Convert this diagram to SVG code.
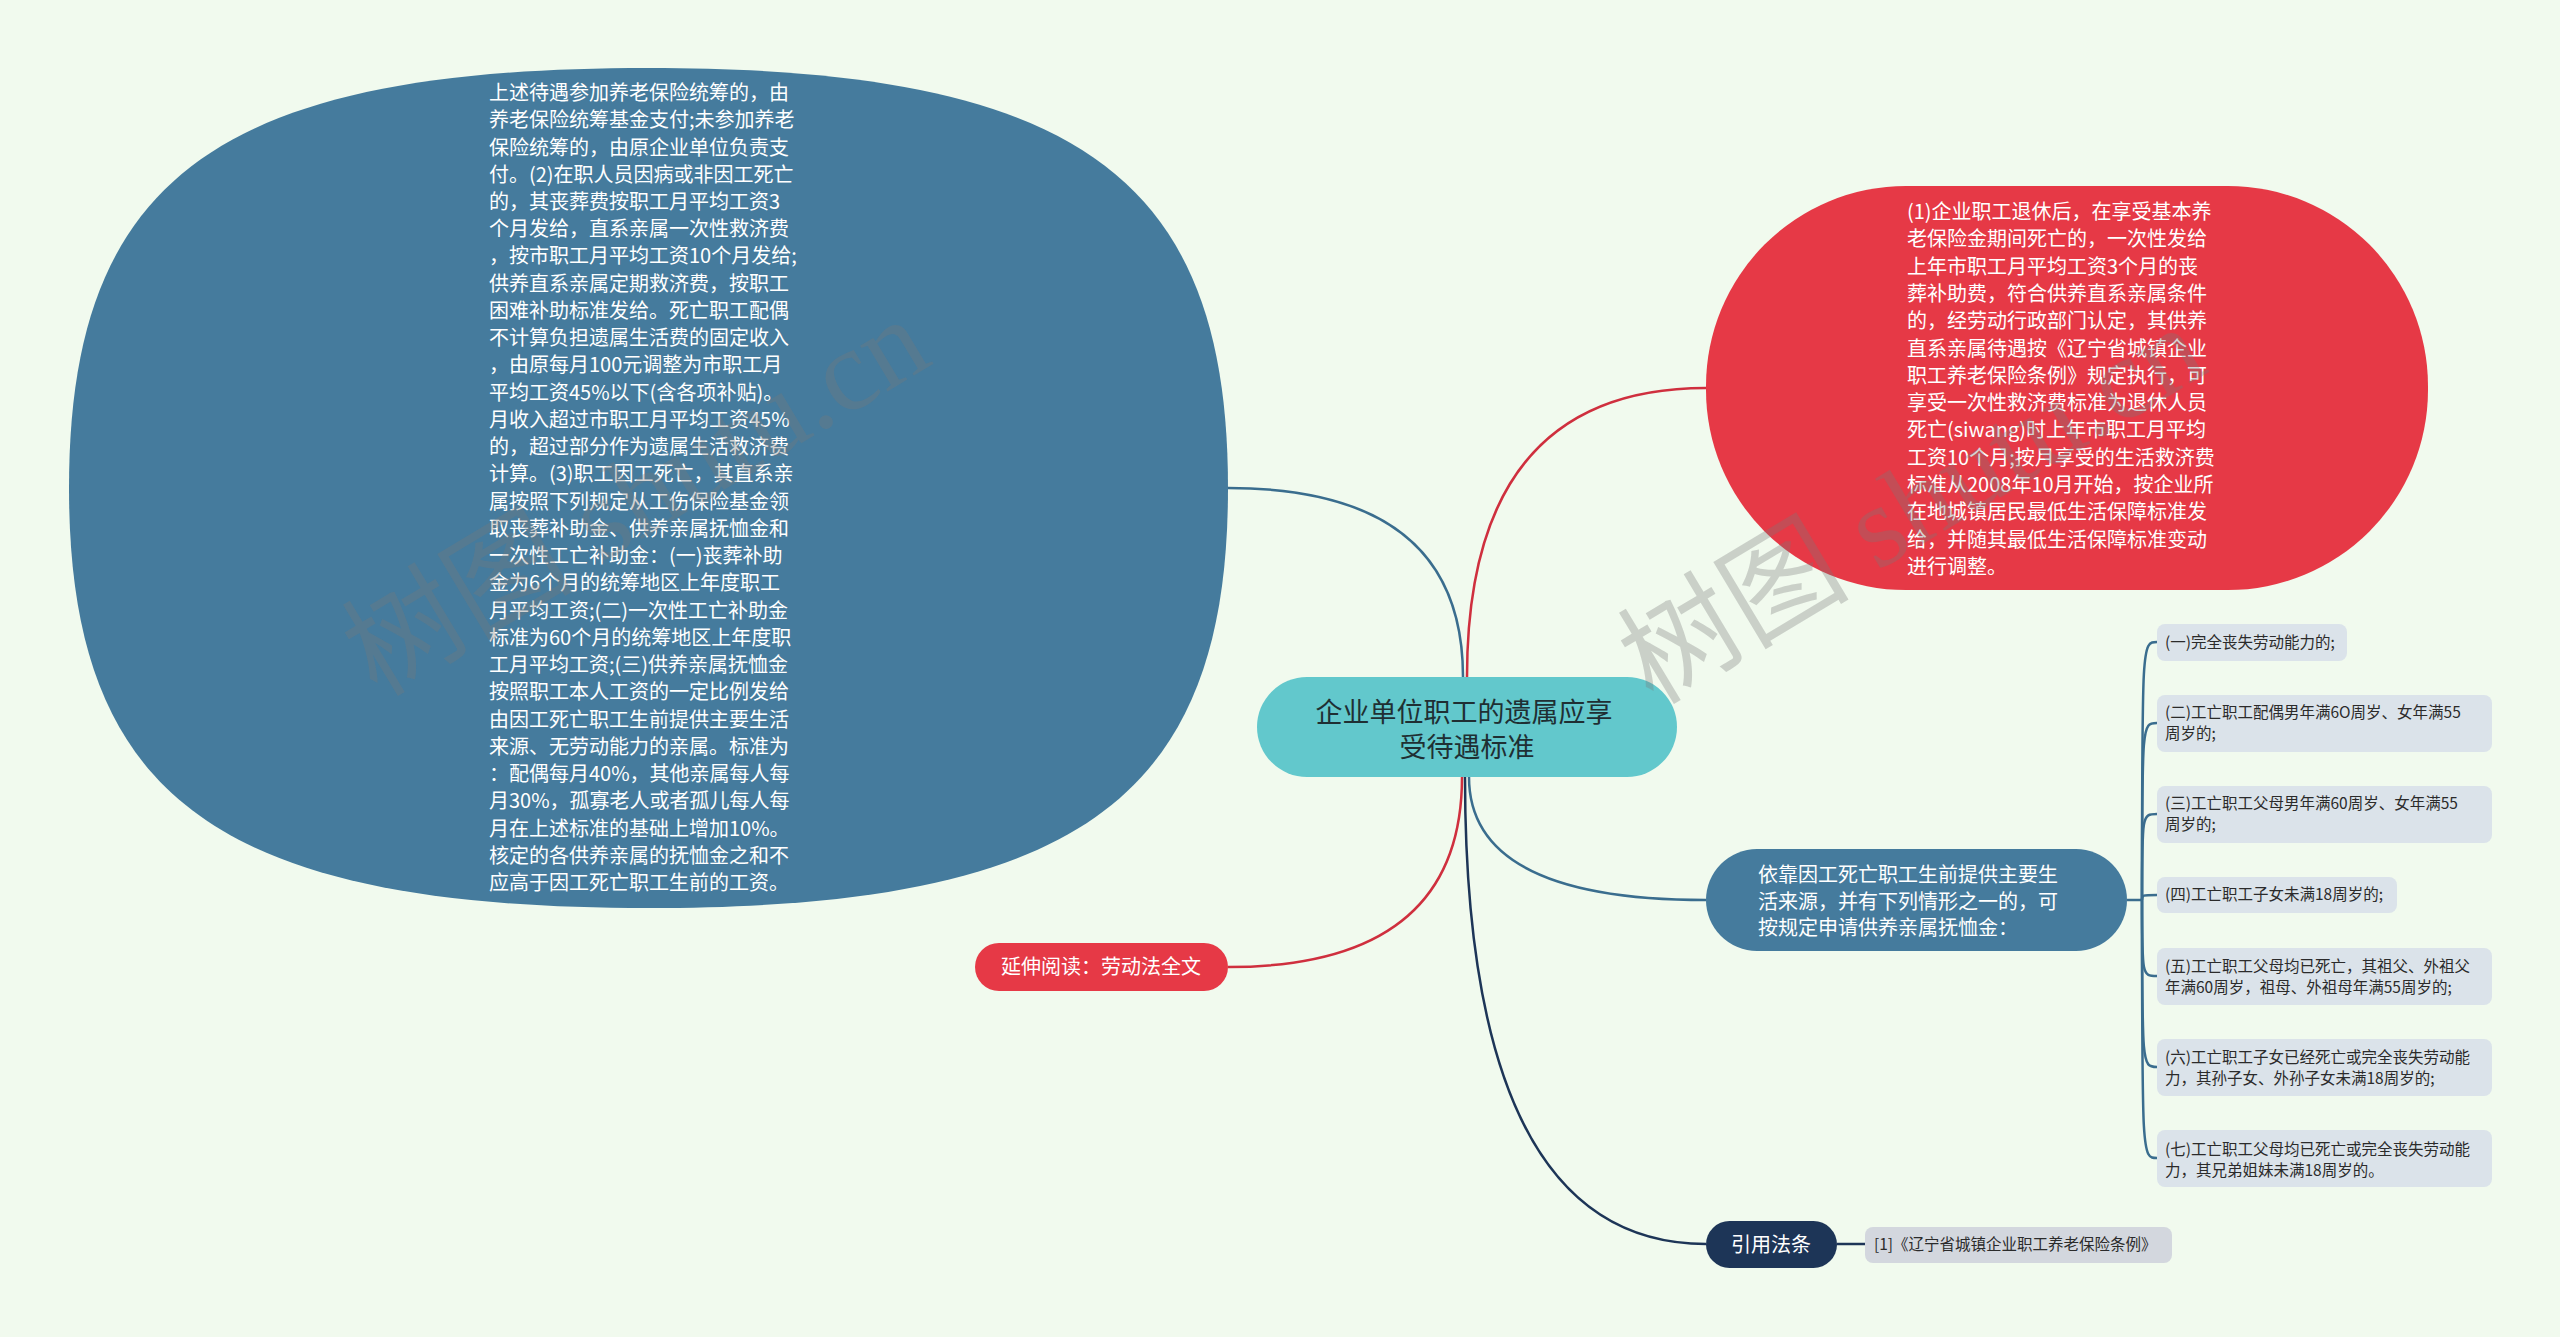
<svg xmlns="http://www.w3.org/2000/svg" width="2560" height="1337" viewBox="0 0 2560 1337">
<style>
text{font-family:"Noto Sans CJK SC","Noto Sans",sans-serif;}
.wt{fill:#ffffff;font-size:20px;}
.lf{fill:#2b2b2b;font-size:15.5px;}
.leaf{fill:#dbe3ea;}
.wm{fill:#7a7a7a;fill-opacity:0.32;font-size:116px;font-family:"Liberation Serif","Noto Sans CJK SC",serif;}
.c{fill:none;stroke-width:2.5;}
</style>
<rect x="0" y="0" width="2560" height="1337" fill="#f1faee"/>

<g id="connectors">
  <path class="c" stroke="#3a6d8e" d="M1463,677 Q1463,488 1228,488"/>
  <path class="c" stroke="#cf2f3e" d="M1467,677 Q1467,388 1706,388"/>
  <path class="c" stroke="#cf2f3e" d="M1462,777 Q1462,967 1228,967"/>
  <path class="c" stroke="#3a6d8e" d="M1469,777 Q1469,900 1706,900"/>
  <path class="c" stroke="#1d3557" d="M1465,777 Q1465,1244 1706,1244"/>
  <path class="c" stroke="#1d3557" d="M1837,1244 H1865"/>
  <g stroke="#3a6d8e" class="c">
    <path d="M2127,900 H2142"/>
    <path d="M2142,900 C2142,642 2142,642 2157,642"/>
    <path d="M2142,900 C2142,723 2142,723 2157,723"/>
    <path d="M2142,900 C2142,814 2142,814 2157,814"/>
    <path d="M2142,900 C2142,895 2142,895 2157,895"/>
    <path d="M2142,900 C2142,976 2142,976 2157,976"/>
    <path d="M2142,900 C2142,1067 2142,1067 2157,1067"/>
    <path d="M2142,900 C2142,1158 2142,1158 2157,1158"/>
  </g>
</g>

<g id="node-left">
  <path d="M69,488 C69,177 220,68 648.5,68 C1077,68 1228,177 1228,488 C1228,799 1077,908 648.5,908 C220,908 69,799 69,488 Z" fill="#457b9d"/>
  <text class="wt">
    <tspan x="489" y="100">上述待遇参加养老保险统筹的，由</tspan>
    <tspan x="489" y="127.2">养老保险统筹基金支付;未参加养老</tspan>
    <tspan x="489" y="154.5">保险统筹的，由原企业单位负责支</tspan>
    <tspan x="489" y="181.7">付。(2)在职人员因病或非因工死亡</tspan>
    <tspan x="489" y="209">的，其丧葬费按职工月平均工资3</tspan>
    <tspan x="489" y="236.2">个月发给，直系亲属一次性救济费</tspan>
    <tspan x="489" y="263.4">，按市职工月平均工资10个月发给;</tspan>
    <tspan x="489" y="290.7">供养直系亲属定期救济费，按职工</tspan>
    <tspan x="489" y="317.9">困难补助标准发给。死亡职工配偶</tspan>
    <tspan x="489" y="345.2">不计算负担遗属生活费的固定收入</tspan>
    <tspan x="489" y="372.4">，由原每月100元调整为市职工月</tspan>
    <tspan x="489" y="399.6">平均工资45%以下(含各项补贴)。</tspan>
    <tspan x="489" y="426.9">月收入超过市职工月平均工资45%</tspan>
    <tspan x="489" y="454.1">的，超过部分作为遗属生活救济费</tspan>
    <tspan x="489" y="481.4">计算。(3)职工因工死亡，其直系亲</tspan>
    <tspan x="489" y="508.6">属按照下列规定从工伤保险基金领</tspan>
    <tspan x="489" y="535.8">取丧葬补助金、供养亲属抚恤金和</tspan>
    <tspan x="489" y="563.1">一次性工亡补助金：(一)丧葬补助</tspan>
    <tspan x="489" y="590.3">金为6个月的统筹地区上年度职工</tspan>
    <tspan x="489" y="617.6">月平均工资;(二)一次性工亡补助金</tspan>
    <tspan x="489" y="644.8">标准为60个月的统筹地区上年度职</tspan>
    <tspan x="489" y="672">工月平均工资;(三)供养亲属抚恤金</tspan>
    <tspan x="489" y="699.3">按照职工本人工资的一定比例发给</tspan>
    <tspan x="489" y="726.5">由因工死亡职工生前提供主要生活</tspan>
    <tspan x="489" y="753.8">来源、无劳动能力的亲属。标准为</tspan>
    <tspan x="489" y="781">：配偶每月40%，其他亲属每人每</tspan>
    <tspan x="489" y="808.2">月30%，孤寡老人或者孤儿每人每</tspan>
    <tspan x="489" y="835.5">月在上述标准的基础上增加10%。</tspan>
    <tspan x="489" y="862.7">核定的各供养亲属的抚恤金之和不</tspan>
    <tspan x="489" y="890">应高于因工死亡职工生前的工资。</tspan>
  </text>
</g>

<g id="node-red-big">
  <rect x="1706" y="186" width="722" height="404" rx="200" ry="200" fill="#e63946"/>
  <text class="wt">
    <tspan x="1907" y="219">(1)企业职工退休后，在享受基本养</tspan>
    <tspan x="1907" y="246.3">老保险金期间死亡的，一次性发给</tspan>
    <tspan x="1907" y="273.6">上年市职工月平均工资3个月的丧</tspan>
    <tspan x="1907" y="300.9">葬补助费，符合供养直系亲属条件</tspan>
    <tspan x="1907" y="328.2">的，经劳动行政部门认定，其供养</tspan>
    <tspan x="1907" y="355.5">直系亲属待遇按《辽宁省城镇企业</tspan>
    <tspan x="1907" y="382.8">职工养老保险条例》规定执行，可</tspan>
    <tspan x="1907" y="410.1">享受一次性救济费标准为退休人员</tspan>
    <tspan x="1907" y="437.4">死亡(siwang)时上年市职工月平均</tspan>
    <tspan x="1907" y="464.7">工资10个月;按月享受的生活救济费</tspan>
    <tspan x="1907" y="492">标准从2008年10月开始，按企业所</tspan>
    <tspan x="1907" y="519.3">在地城镇居民最低生活保障标准发</tspan>
    <tspan x="1907" y="546.6">给，并随其最低生活保障标准变动</tspan>
    <tspan x="1907" y="573.9">进行调整。</tspan>
  </text>
</g>

<g id="node-center">
  <rect x="1257" y="677" width="420" height="100" rx="50" fill="#62c8cc"/>
  <text font-size="27" fill="#1f2f33" text-anchor="middle">
    <tspan x="1467" y="722">企业单位职工的遗属应享</tspan>
    <tspan x="1467" y="757">受待遇标准</tspan>
  </text>
</g>

<g id="node-blue-mid">
  <rect x="1706" y="849" width="421" height="102" rx="51" fill="#457b9d"/>
  <text class="wt">
    <tspan x="1758" y="882">依靠因工死亡职工生前提供主要生</tspan>
    <tspan x="1758" y="909">活来源，并有下列情形之一的，可</tspan>
    <tspan x="1758" y="935">按规定申请供养亲属抚恤金：</tspan>
  </text>
</g>

<g id="node-red-small">
  <rect x="975" y="943" width="253" height="48" rx="24" fill="#e63946"/>
  <text class="wt" x="1101" y="974" text-anchor="middle">延伸阅读：劳动法全文</text>
</g>

<g id="node-cite">
  <rect x="1706" y="1221" width="131" height="47" rx="23.5" fill="#1d3557"/>
  <text class="wt" x="1771" y="1252" text-anchor="middle">引用法条</text>
</g>

<g id="leaf-cite">
  <rect x="1865" y="1227" width="307" height="36" rx="8" fill="#d3d7de"/>
  <text class="lf" x="1874" y="1250" font-size="15">[1]《辽宁省城镇企业职工养老保险条例》</text>
</g>

<g id="leaf-1">
  <rect class="leaf" x="2157" y="624" width="190" height="37" rx="8"/>
  <text class="lf" x="2165" y="648">(一)完全丧失劳动能力的;</text>
</g>
<g id="leaf-2">
  <rect class="leaf" x="2157" y="695" width="335" height="57" rx="8"/>
  <text class="lf"><tspan x="2165" y="718">(二)工亡职工配偶男年满6O周岁、女年满55</tspan><tspan x="2165" y="739">周岁的;</tspan></text>
</g>
<g id="leaf-3">
  <rect class="leaf" x="2157" y="786" width="335" height="57" rx="8"/>
  <text class="lf"><tspan x="2165" y="809">(三)工亡职工父母男年满60周岁、女年满55</tspan><tspan x="2165" y="830">周岁的;</tspan></text>
</g>
<g id="leaf-4">
  <rect class="leaf" x="2157" y="877" width="240" height="36" rx="8"/>
  <text class="lf" x="2165" y="900">(四)工亡职工子女未满18周岁的;</text>
</g>
<g id="leaf-5">
  <rect class="leaf" x="2157" y="948" width="335" height="57" rx="8"/>
  <text class="lf"><tspan x="2165" y="972">(五)工亡职工父母均已死亡，其祖父、外祖父</tspan><tspan x="2165" y="993">年满60周岁，祖母、外祖母年满55周岁的;</tspan></text>
</g>
<g id="leaf-6">
  <rect class="leaf" x="2157" y="1039" width="335" height="57" rx="8"/>
  <text class="lf"><tspan x="2165" y="1063">(六)工亡职工子女已经死亡或完全丧失劳动能</tspan><tspan x="2165" y="1084">力，其孙子女、外孙子女未满18周岁的;</tspan></text>
</g>
<g id="leaf-7">
  <rect class="leaf" x="2157" y="1130" width="335" height="57" rx="8"/>
  <text class="lf"><tspan x="2165" y="1155">(七)工亡职工父母均已死亡或完全丧失劳动能</tspan><tspan x="2165" y="1176">力，其兄弟姐妹未满18周岁的。</tspan></text>
</g>

<g id="watermarks">
  <text class="wm" transform="translate(377,698) rotate(-31)">树图 shutu.cn</text>
  <text class="wm" transform="translate(1653,706) rotate(-31)">树图 shutu.cn</text>
</g>
</svg>
